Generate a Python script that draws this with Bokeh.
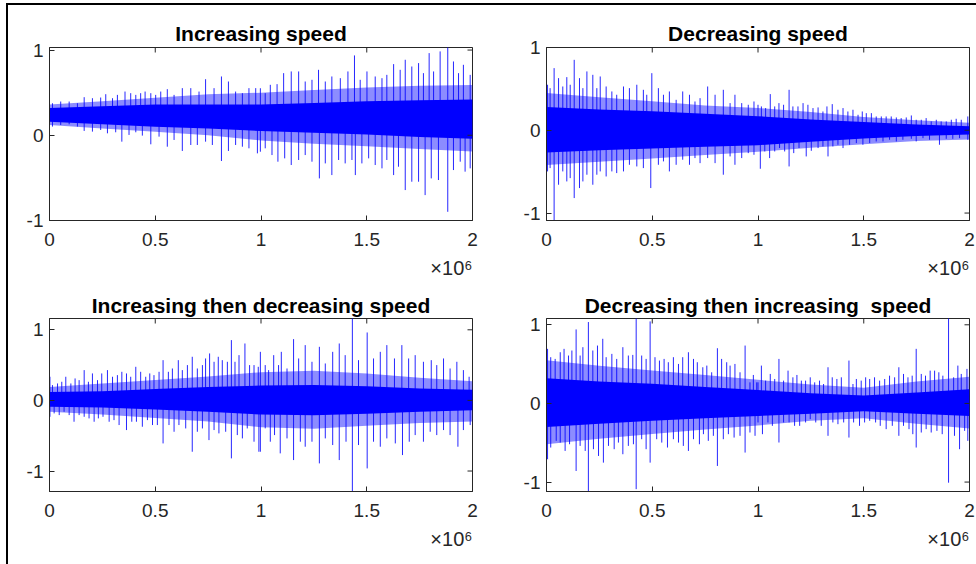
import math
from bokeh.plotting import figure
from bokeh.models import Range1d, FixedTicker, Title
from bokeh.layouts import row, column
from bokeh.embed import file_html
from bokeh.resources import INLINE

# ---------------- data (x in units of 1e6 samples) ----------------
titles = ["Increasing speed", "Decreasing speed",
          "Increasing then decreasing speed", "Decreasing then increasing\u00a0 speed"]
x_ticks = [0, 0.5, 1, 1.5, 2]
x_tick_labels = ["0", "0.5", "1", "1.5", "2"]
x_exponent = "\u00d710\u2076"
y_ticks = [-1, 0, 1]
y_tick_labels = ["-1", "0", "1"]
y_limits = [(-1.0, 1.03), (-1.09, 1.0), (-1.29, 1.16), (-1.12, 1.08)]
baselines = [0.22, 0.0, 0.0, 0.0]

env_x = [0, 0.25, 0.5, 0.75, 1.0, 1.25, 1.5, 1.75, 2.0]

# Increasing speed
inc_core_hi = [0.32, 0.34, 0.36, 0.36, 0.36, 0.38, 0.40, 0.41, 0.42]
inc_core_lo = [0.16, 0.13, 0.10, 0.08, 0.05, 0.03, 0.01, -0.02, -0.04]
inc_mid_hi = [0.36, 0.40, 0.44, 0.48, 0.50, 0.53, 0.56, 0.58, 0.59]
inc_mid_lo = [0.12, 0.08, 0.04, 0.0, -0.06, -0.10, -0.13, -0.16, -0.19]
inc_up_x = [0.014, 0.053, 0.093, 0.132, 0.164, 0.203, 0.242, 0.266, 0.298, 0.321, 0.357, 0.384, 0.408, 0.431,
            0.452, 0.479, 0.502, 0.526, 0.557, 0.589, 0.628, 0.668, 0.707, 0.738, 0.778, 0.813, 0.846, 0.880,
            0.912, 0.943, 0.975, 0.997, 1.020, 1.044, 1.076, 1.107, 1.143, 1.178, 1.209, 1.241, 1.272, 1.304,
            1.335, 1.375, 1.411, 1.442, 1.469, 1.501, 1.540, 1.572, 1.595, 1.627, 1.658, 1.682, 1.713, 1.745,
            1.768, 1.795, 1.816, 1.847, 1.883, 1.910, 1.934, 1.957, 1.989]
inc_up_y = [0.376, 0.396, 0.396, 0.376, 0.447, 0.435, 0.443, 0.482, 0.435, 0.474, 0.513, 0.494, 0.474, 0.494,
            0.513, 0.494, 0.474, 0.513, 0.541, 0.474, 0.553, 0.553, 0.513, 0.658, 0.553, 0.690, 0.631, 0.513,
            0.494, 0.553, 0.553, 0.552, 0.494, 0.592, 0.600, 0.729, 0.749, 0.749, 0.631, 0.651, 0.768, 0.631,
            0.690, 0.670, 0.749, 0.937, 0.651, 0.749, 0.690, 0.670, 0.709, 0.835, 0.768, 0.886, 0.807, 0.847,
            0.729, 0.964, 0.749, 0.984, 1.04, 0.866, 0.729, 0.827, 0.709]
inc_dn_x = [0.014, 0.053, 0.093, 0.132, 0.164, 0.203, 0.242, 0.274, 0.313, 0.342, 0.376, 0.408, 0.439, 0.479,
            0.518, 0.557, 0.589, 0.628, 0.668, 0.699, 0.738, 0.770, 0.813, 0.846, 0.880, 0.912, 0.943, 0.983,
            0.997, 1.020, 1.052, 1.080, 1.112, 1.143, 1.178, 1.209, 1.241, 1.276, 1.304, 1.335, 1.367, 1.398,
            1.430, 1.446, 1.477, 1.509, 1.540, 1.572, 1.595, 1.627, 1.650, 1.682, 1.713, 1.745, 1.776, 1.805,
            1.839, 1.883, 1.910, 1.942, 1.965, 1.989]
inc_dn_y = [0.102, 0.121, 0.129, 0.102, 0.051, 0.043, 0.062, 0.023, 0.035, -0.075, 0.004, 0.035, -0.004, -0.106,
            -0.016, -0.134, -0.055, -0.184, -0.114, -0.114, -0.075, -0.114, -0.302, -0.184, -0.114, -0.134, -0.153,
            -0.212, -0.193, -0.153, -0.232, -0.310, -0.271, -0.349, -0.290, -0.232, -0.310, -0.506, -0.330, -0.467,
            -0.290, -0.330, -0.290, -0.467, -0.330, -0.271, -0.349, -0.388, -0.290, -0.467, -0.369, -0.643, -0.545,
            -0.545, -0.702, -0.506, -0.525, -0.898, -0.408, -0.310, -0.427, -0.388]

# Decreasing speed
dec_core_hi = [0.28, 0.25, 0.23, 0.20, 0.17, 0.13, 0.10, 0.07, 0.05]
dec_core_lo = [-0.27, -0.24, -0.22, -0.20, -0.18, -0.14, -0.10, -0.07, -0.05]
dec_mid_hi = [0.45, 0.40, 0.35, 0.30, 0.27, 0.22, 0.16, 0.12, 0.09]
dec_mid_lo = [-0.42, -0.38, -0.34, -0.30, -0.26, -0.21, -0.17, -0.13, -0.11]
dec_up_x = [0.005, 0.017, 0.036, 0.057, 0.077, 0.096, 0.112, 0.131, 0.156, 0.172, 0.191, 0.219, 0.238, 0.254,
            0.282, 0.309, 0.332, 0.364, 0.392, 0.427, 0.458, 0.474, 0.498, 0.529, 0.553, 0.581, 0.613, 0.644,
            0.676, 0.702, 0.726, 0.762, 0.797, 0.836, 0.868, 0.891, 0.923, 0.954, 0.981,
            1.000, 1.016, 1.036, 1.058, 1.079, 1.099, 1.121, 1.147, 1.165, 1.189, 1.213, 1.236, 1.260, 1.284,
            1.307, 1.326, 1.351, 1.378, 1.402, 1.425, 1.449, 1.473, 1.493, 1.512, 1.536, 1.559, 1.583, 1.606,
            1.630, 1.654, 1.677, 1.701, 1.725, 1.748, 1.772, 1.795, 1.819, 1.843, 1.866, 1.890, 1.914, 1.937,
            1.961, 1.992]
dec_up_y = [0.550, 0.509, 0.751, 0.630, 0.529, 0.642, 0.550, 0.851, 0.630, 0.509, 0.711, 0.670, 0.509, 0.650,
            0.529, 0.469, 0.429, 0.529, 0.509, 0.550, 0.489, 0.429, 0.690, 0.509, 0.429, 0.469, 0.368, 0.469,
            0.429, 0.348, 0.388, 0.529, 0.429, 0.489, 0.328, 0.429, 0.328, 0.308, 0.348,
            0.308, 0.288, 0.268, 0.437, 0.288, 0.328, 0.308, 0.489, 0.288, 0.288, 0.328, 0.308, 0.268, 0.276,
            0.227, 0.288, 0.316, 0.248, 0.268, 0.227, 0.248, 0.187, 0.227, 0.207, 0.207, 0.167, 0.167, 0.167,
            0.167, 0.155, 0.147, 0.155, 0.179, 0.127, 0.127, 0.147, 0.107, 0.127, 0.107, 0.107, 0.127, 0.139,
            0.127, 0.167]
dec_dn_x = [0.005, 0.017, 0.036, 0.057, 0.077, 0.096, 0.112, 0.131, 0.156, 0.172, 0.191, 0.219, 0.238, 0.254,
            0.282, 0.309, 0.332, 0.364, 0.392, 0.427, 0.458, 0.493, 0.529, 0.553, 0.581, 0.613, 0.644, 0.676,
            0.702, 0.726, 0.762, 0.797, 0.836, 0.868, 0.891, 0.923, 0.954, 0.981,
            1.011, 1.032, 1.055, 1.079, 1.102, 1.126, 1.147, 1.169, 1.194, 1.228, 1.252, 1.284, 1.307, 1.331,
            1.354, 1.378, 1.402, 1.433, 1.465, 1.496, 1.528, 1.559, 1.591, 1.622, 1.654, 1.685, 1.725, 1.748,
            1.780, 1.811, 1.858, 1.890, 1.921, 1.953, 1.992]
dec_dn_y = [-0.497, -0.457, -1.15, -0.658, -0.497, -0.618, -0.578, -0.819, -0.698, -0.618, -0.537, -0.658,
            -0.537, -0.497, -0.558, -0.497, -0.517, -0.497, -0.417, -0.437, -0.457, -0.698, -0.417, -0.376,
            -0.497, -0.417, -0.356, -0.417, -0.336, -0.397, -0.336, -0.397, -0.537, -0.316, -0.417, -0.336,
            -0.276, -0.296,
            -0.465, -0.256, -0.336, -0.256, -0.215, -0.256, -0.437, -0.276, -0.215, -0.316, -0.248, -0.215,
            -0.195, -0.316, -0.195, -0.175, -0.215, -0.175, -0.155, -0.175, -0.155, -0.135, -0.135, -0.115,
            -0.135, -0.115, -0.103, -0.135, -0.095, -0.115, -0.175, -0.103, -0.103, -0.095, -0.115]

# Increasing then decreasing speed
incdec_core_hi = [0.12, 0.13, 0.16, 0.19, 0.21, 0.22, 0.20, 0.17, 0.15]
incdec_core_lo = [-0.09, -0.10, -0.13, -0.16, -0.20, -0.21, -0.19, -0.16, -0.14]
incdec_mid_hi = [0.19, 0.24, 0.29, 0.34, 0.40, 0.42, 0.38, 0.32, 0.27]
incdec_mid_lo = [-0.16, -0.20, -0.25, -0.30, -0.38, -0.40, -0.36, -0.32, -0.30]
incdec_up_x = [0.002, 0.014, 0.038, 0.058, 0.077, 0.101, 0.121, 0.140, 0.164, 0.184, 0.203, 0.227, 0.247, 0.274,
               0.298, 0.321, 0.342, 0.364, 0.384, 0.408, 0.431, 0.455, 0.474, 0.494, 0.518, 0.537, 0.562, 0.581,
               0.609, 0.628, 0.652, 0.675, 0.699, 0.723, 0.738, 0.757, 0.778, 0.798, 0.817, 0.841, 0.860, 0.877,
               0.896, 0.924, 0.946, 0.967, 0.987,
               0.997, 1.020, 1.036, 1.060, 1.083, 1.096, 1.123, 1.154, 1.178, 1.209, 1.241, 1.276, 1.304, 1.339,
               1.370, 1.398, 1.432, 1.461, 1.502, 1.532, 1.564, 1.595, 1.631, 1.666, 1.698, 1.729, 1.768, 1.805,
               1.831, 1.863, 1.894, 1.926, 1.957, 1.984]
incdec_up_y = [0.335, 0.217, 0.240, 0.264, 0.335, 0.240, 0.311, 0.287, 0.429, 0.264, 0.382, 0.287, 0.382, 0.429,
               0.335, 0.358, 0.405, 0.382, 0.335, 0.476, 0.405, 0.335, 0.382, 0.358, 0.405, 0.570, 0.405, 0.452,
               0.570, 0.429, 0.500, 0.618, 0.452, 0.500, 0.594, 0.665, 0.547, 0.618, 0.570, 0.547, 0.854, 0.547,
               0.641, 0.806, 0.500, 0.500, 0.476,
               0.688, 0.500, 0.429, 0.641, 0.500, 0.688, 0.452, 0.868, 0.594, 0.783, 0.547, 0.759, 0.523, 0.688,
               0.806, 0.641, 1.30, 0.570, 0.962, 0.594, 0.688, 0.783, 0.594, 0.783, 0.594, 0.641, 0.547, 0.570,
               0.500, 0.594, 0.452, 0.547, 0.429, 0.335]
incdec_dn_x = [0.002, 0.022, 0.046, 0.069, 0.093, 0.116, 0.140, 0.164, 0.187, 0.211, 0.231, 0.253, 0.282, 0.305,
               0.329, 0.364, 0.389, 0.411, 0.439, 0.463, 0.487, 0.510, 0.537, 0.565, 0.589, 0.612, 0.644, 0.675,
               0.699, 0.723, 0.754, 0.778, 0.801, 0.833, 0.860, 0.888, 0.912, 0.935, 0.967, 0.990,
               0.997, 1.020, 1.044, 1.064, 1.091, 1.123, 1.154, 1.186, 1.209, 1.241, 1.276, 1.304, 1.339, 1.370,
               1.402, 1.432, 1.461, 1.502, 1.532, 1.564, 1.595, 1.635, 1.669, 1.701, 1.729, 1.768, 1.800, 1.831,
               1.863, 1.894, 1.931, 1.957, 1.989]
incdec_dn_y = [-0.232, -0.184, -0.208, -0.161, -0.208, -0.302, -0.208, -0.232, -0.255, -0.302, -0.255, -0.232,
               -0.302, -0.279, -0.349, -0.420, -0.302, -0.302, -0.373, -0.279, -0.349, -0.349, -0.609, -0.349,
               -0.444, -0.349, -0.397, -0.727, -0.444, -0.397, -0.562, -0.420, -0.467, -0.444, -0.821, -0.491,
               -0.538, -0.397, -0.585, -0.727,
               -0.727, -0.396, -0.585, -0.491, -0.750, -0.538, -0.845, -0.585, -0.656, -0.585, -0.892, -0.538,
               -0.632, -0.845, -0.585, -1.40, -0.632, -0.963, -0.585, -0.656, -0.538, -0.609, -0.774, -0.585,
               -0.491, -0.585, -0.444, -0.491, -0.420, -0.491, -0.656, -0.420, -0.349]

# Decreasing then increasing speed
decinc_core_hi = [0.32, 0.28, 0.25, 0.21, 0.17, 0.13, 0.10, 0.14, 0.18]
decinc_core_lo = [-0.30, -0.26, -0.22, -0.19, -0.16, -0.13, -0.10, -0.13, -0.16]
decinc_mid_hi = [0.55, 0.48, 0.42, 0.36, 0.30, 0.24, 0.20, 0.28, 0.34]
decinc_mid_lo = [-0.52, -0.45, -0.39, -0.33, -0.28, -0.22, -0.19, -0.26, -0.32]
decinc_up_x = [0.005, 0.020, 0.041, 0.065, 0.083, 0.104, 0.120, 0.140, 0.159, 0.172, 0.198, 0.219, 0.241, 0.266,
               0.282, 0.309, 0.332, 0.361, 0.387, 0.408, 0.424, 0.450, 0.471, 0.490, 0.513, 0.534, 0.556, 0.576,
               0.600, 0.624, 0.644, 0.671, 0.695, 0.713, 0.739, 0.758, 0.781, 0.808, 0.828, 0.852, 0.868, 0.891,
               0.915, 0.939, 0.962, 0.978, 0.994,
               1.000, 1.016, 1.036, 1.058, 1.079, 1.099, 1.121, 1.142, 1.165, 1.184, 1.205, 1.225, 1.247, 1.268,
               1.291, 1.310, 1.331, 1.351, 1.373, 1.394, 1.430, 1.449, 1.465, 1.488, 1.509, 1.528, 1.551, 1.575,
               1.599, 1.622, 1.646, 1.666, 1.688, 1.709, 1.729, 1.748, 1.772, 1.792, 1.814, 1.835, 1.855, 1.874,
               1.901, 1.925, 1.945, 1.961, 1.988]
decinc_up_y = [0.694, 0.588, 0.566, 0.651, 0.694, 0.609, 0.673, 0.941, 0.609, 0.715, 1.035, 0.673, 0.736, 0.822,
               0.588, 0.630, 0.566, 0.715, 0.609, 0.617, 1.10, 0.609, 0.566, 1.043, 0.588, 0.545, 0.566, 0.524,
               0.588, 0.502, 0.588, 0.651, 0.566, 0.524, 0.460, 0.481, 0.396, 0.702, 0.566, 0.524, 0.481, 0.502,
               0.396, 0.736, 0.268, 0.362, 0.268,
               0.268, 0.481, 0.290, 0.375, 0.311, 0.566, 0.290, 0.417, 0.332, 0.362, 0.290, 0.290, 0.332, 0.268,
               0.290, 0.247, 0.460, 0.332, 0.311, 0.332, 0.545, 0.247, 0.311, 0.290, 0.332, 0.311, 0.332, 0.290,
               0.311, 0.353, 0.332, 0.460, 0.375, 0.332, 0.353, 0.694, 0.375, 0.353, 0.417, 0.417, 0.396, 0.353,
               1.10, 0.332, 0.481, 0.375, 0.439]
decinc_dn_x = [0.005, 0.020, 0.046, 0.065, 0.088, 0.109, 0.140, 0.159, 0.183, 0.198, 0.222, 0.246, 0.269, 0.293,
               0.320, 0.340, 0.361, 0.387, 0.411, 0.424, 0.450, 0.471, 0.490, 0.521, 0.545, 0.572, 0.600, 0.624,
               0.647, 0.671, 0.695, 0.723, 0.742, 0.765, 0.789, 0.808, 0.836, 0.860, 0.887, 0.915, 0.939, 0.962,
               0.986,
               1.000, 1.021, 1.047, 1.068, 1.099, 1.121, 1.147, 1.173, 1.197, 1.225, 1.247, 1.273, 1.299, 1.331,
               1.354, 1.378, 1.405, 1.430, 1.452, 1.480, 1.504, 1.528, 1.556, 1.578, 1.606, 1.635, 1.666, 1.688,
               1.714, 1.732, 1.748, 1.772, 1.795, 1.819, 1.846, 1.871, 1.901, 1.929, 1.953, 1.977, 1.992]
decinc_dn_y = [-0.710, -0.561, -0.476, -0.498, -0.604, -0.519, -0.859, -0.540, -0.604, -1.15, -0.582, -0.668,
               -0.753, -0.540, -0.582, -0.498, -0.646, -0.540, -0.519, -1.09, -0.455, -0.582, -0.753, -0.455,
               -0.498, -0.561, -0.455, -0.498, -0.540, -0.604, -0.455, -0.519, -0.391, -0.476, -0.412, -0.795,
               -0.455, -0.391, -0.434, -0.412, -0.625, -0.370, -0.412,
               -0.242, -0.391, -0.242, -0.285, -0.497, -0.242, -0.242, -0.285, -0.285, -0.242, -0.200, -0.242,
               -0.285, -0.412, -0.242, -0.264, -0.242, -0.434, -0.242, -0.285, -0.242, -0.221, -0.242, -0.285,
               -0.327, -0.285, -0.412, -0.285, -0.327, -0.391, -0.561, -0.370, -0.327, -0.370, -0.349, -0.391,
               -1.008, -0.412, -0.582, -0.349, -0.476]

# ---------------- styling ----------------
BLUE = "#0000FF"
AX = "#262626"
FONT = "Liberation Sans"

series = [
    (inc_core_hi, inc_core_lo, inc_mid_hi, inc_mid_lo, inc_up_x, inc_up_y, inc_dn_x, inc_dn_y),
    (dec_core_hi, dec_core_lo, dec_mid_hi, dec_mid_lo, dec_up_x, dec_up_y, dec_dn_x, dec_dn_y),
    (incdec_core_hi, incdec_core_lo, incdec_mid_hi, incdec_mid_lo, incdec_up_x, incdec_up_y, incdec_dn_x, incdec_dn_y),
    (decinc_core_hi, decinc_core_lo, decinc_mid_hi, decinc_mid_lo, decinc_up_x, decinc_up_y, decinc_dn_x, decinc_dn_y),
]

# (width, height, border left, right, top, bottom, title standoff)
geom = [(508, 282, 41, 44, 39, 70, 6), (460, 282, 30, 7, 39, 70, 6),
        (508, 274, 41, 44, 28, 73, 3), (460, 274, 30, 7, 28, 73, 3)]

xo = {t: l for t, l in zip(x_ticks, x_tick_labels)}
yo = {t: l for t, l in zip(y_ticks, y_tick_labels)}


def style_axis(ax, standoff):
    ax.axis_line_color = AX
    ax.major_tick_line_color = AX
    ax.minor_tick_line_color = None
    ax.major_tick_in = 5
    ax.major_tick_out = 0
    ax.major_label_text_font = FONT
    ax.major_label_text_color = AX
    ax.major_label_standoff = standoff
    ax.major_label_text_font_size = "19px"


def make_panel(i):
    w, h, bl, br, bt, bb, ts = geom[i]
    core_hi, core_lo, mid_hi, mid_lo, up_x, up_y, dn_x, dn_y = series[i]
    ylo, yhi = y_limits[i]
    p = figure(width=w, height=h, x_range=Range1d(0, 2), y_range=Range1d(ylo, yhi),
               output_backend="svg", toolbar_location=None,
               min_border_left=bl, min_border_right=br, min_border_top=bt, min_border_bottom=bb)
    p.title.text = titles[i]
    p.title.text_font = FONT
    p.title.text_font_size = "21px"
    p.title.text_font_style = "bold"
    p.title.text_color = "black"
    p.title.align = "center"
    p.title.standoff = ts
    p.grid.visible = False
    p.outline_line_color = AX
    p.background_fill_color = "white"
    p.border_fill_color = "white"

    p.varea(x=env_x, y1=mid_lo, y2=mid_hi, fill_color=BLUE, fill_alpha=0.45)
    p.segment(x0=up_x, y0=baselines[i], x1=up_x, y1=up_y, line_color=BLUE, line_width=1, line_alpha=0.85)
    p.segment(x0=dn_x, y0=baselines[i], x1=dn_x, y1=dn_y, line_color=BLUE, line_width=1, line_alpha=0.85)
    p.varea(x=env_x, y1=core_lo, y2=core_hi, fill_color=BLUE, fill_alpha=1.0)

    p.xaxis.ticker = FixedTicker(ticks=x_ticks)
    p.xaxis.major_label_overrides = xo
    p.yaxis.ticker = FixedTicker(ticks=y_ticks)
    p.yaxis.major_label_overrides = yo
    style_axis(p.xaxis[0], 12)
    style_axis(p.yaxis[0], 6)

    # inward ticks on the top and right edges of the box (MATLAB "box on")
    p.scatter(x=x_ticks, y=[yhi] * len(x_ticks), marker="dash", angle=math.pi / 2, size=10,
              line_color=AX, line_width=1)
    p.scatter(x=[x_ticks[-1]] * len(y_ticks), y=y_ticks, marker="dash", size=10,
              line_color=AX, line_width=1)

    # axis exponent, right-aligned under the x axis
    p.add_layout(Title(text=x_exponent, align="right", text_font=FONT, text_font_size="20px",
                       text_font_style="normal", text_color=AX, standoff=12), "below")
    return p


panels = [make_panel(i) for i in range(4)]
root = column(row(panels[0], panels[1]), row(panels[2], panels[3]),
              styles={"margin-left": "6px", "margin-top": "3px",
                      "border-left": "2px solid black", "border-top": "2px solid black",
                      "padding-top": "3px"})

open("out.html", "w").write(file_html(root, INLINE))
